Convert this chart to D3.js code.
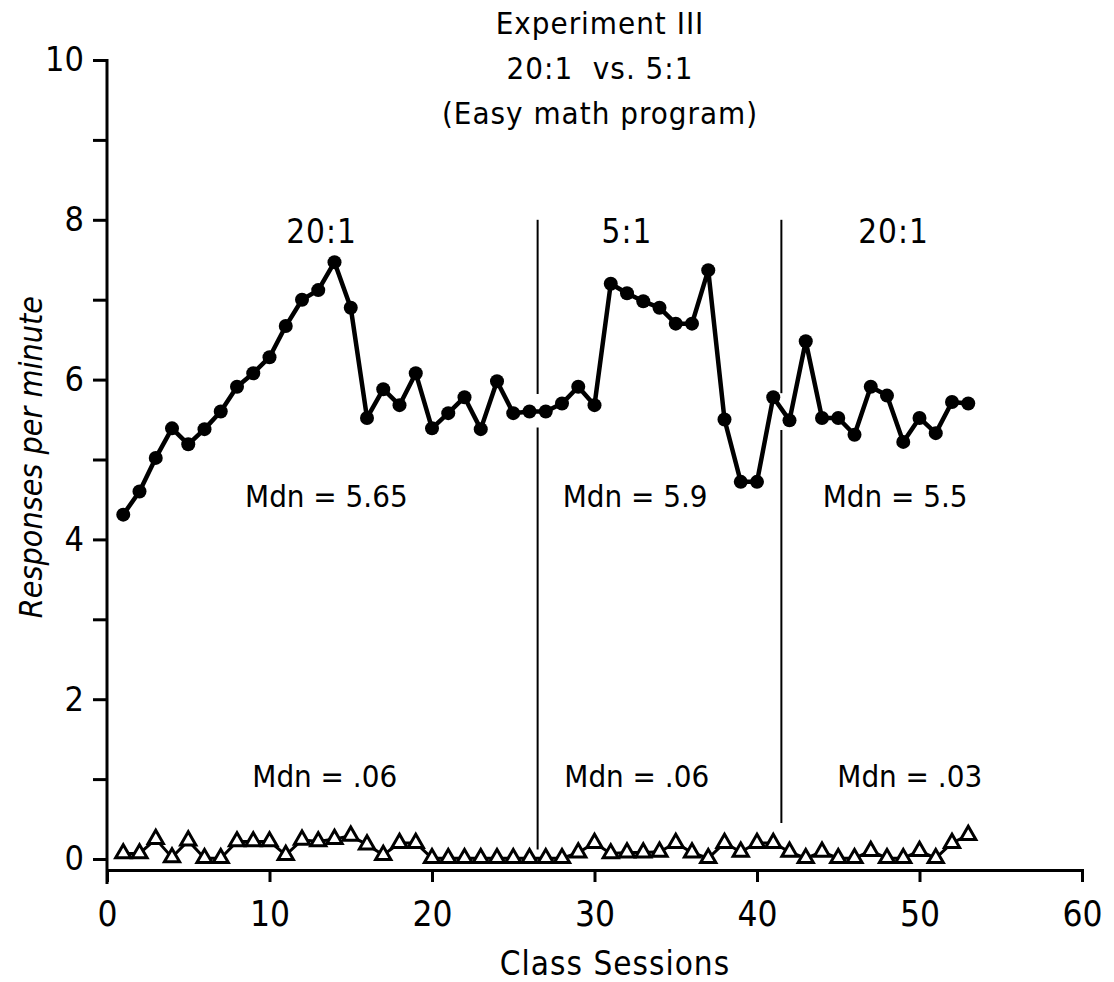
<!DOCTYPE html>
<head>
  <meta charset="utf-8">
  <script src="https://d3js.org/d3.v7.min.js"></script>
<style>
    body {
        margin: 0;
        background: #fff;
    }
    text {
        font-family: "DejaVu Sans Condensed", "DejaVu Sans", sans-serif;
        fill: #000;
        white-space: pre;
    }
    .axis path, .axis line {
        stroke: #000;
        stroke-width: 3px;
    }
    .axis text {
        font-size: 34px;
    }
</style>
</head>

<body>
  <script>

// sessions 1..53
var sessions = d3.range(1, 54);

// responses per minute, filled circles (the math program)
var mathRates = [4.31, 4.6, 5.02, 5.39, 5.19, 5.38, 5.6, 5.91, 6.08, 6.28,
    6.67, 7.0, 7.12, 7.47, 6.9, 5.52, 5.88, 5.68, 6.08, 5.39,
    5.58, 5.78, 5.38, 5.98, 5.58, 5.6, 5.6, 5.7, 5.91, 5.68,
    7.2, 7.08, 6.98, 6.9, 6.7, 6.7, 7.37, 5.5, 4.72, 4.72,
    5.78, 5.49, 6.48, 5.52, 5.52, 5.31, 5.91, 5.8, 5.22, 5.52,
    5.33, 5.72, 5.7];

// open triangles
var otherRates = [0.07, 0.07, 0.25, 0.02, 0.23, 0.01, 0.01, 0.22, 0.22, 0.22,
    0.05, 0.24, 0.22, 0.25, 0.29, 0.18, 0.05, 0.2, 0.2, 0.01,
    0.01, 0.01, 0.01, 0.01, 0.01, 0.01, 0.01, 0.01, 0.08, 0.2,
    0.07, 0.08, 0.08, 0.09, 0.2, 0.08, 0.01, 0.2, 0.09, 0.2,
    0.2, 0.09, 0.01, 0.09, 0.01, 0.01, 0.1, 0.01, 0.01, 0.1,
    0.01, 0.2, 0.3];

var phaseNames = ["20:1", "5:1", "20:1"];
var phaseBreaks = [26.5, 41.5];
var upperMedians = ["Mdn = 5.65", "Mdn = 5.9", "Mdn = 5.5"];
var lowerMedians = ["Mdn = .06", "Mdn = .06", "Mdn = .03"];
var titleLines = ["Experiment III", "20:1  vs. 5:1", "(Easy math program)"];

var width = 1114;
var height = 982;

var svg = d3.select("body")
    .append("svg")
    .attr("width", width)
    .attr("height", height);

var x = d3.scaleLinear().domain([0, 60]).range([107, 1082]);
var y = d3.scaleLinear().domain([0, 10]).range([859, 60]);
var xAxisY = 870;

// x axis
svg.append("g")
    .attr("class", "axis")
    .attr("transform", "translate(0," + xAxisY + ")")
    .call(d3.axisBottom(x).tickValues(d3.range(0, 61, 10)).tickSize(12).tickPadding(19))
    .selectAll("text").style("font-size", "35px");

// y axis
var yAxis = svg.append("g")
    .attr("class", "axis")
    .attr("transform", "translate(" + x(0) + ",0)")
    .call(d3.axisLeft(y).tickValues(d3.range(0, 11))
        .tickFormat(function (d) { return d % 2 === 0 ? d : ""; })
        .tickSize(14).tickSizeOuter(0).tickPadding(9));
yAxis.select(".domain").remove();
yAxis.append("line")
    .attr("x1", 0).attr("x2", 0)
    .attr("y1", y(10) - 1).attr("y2", xAxisY + 14)
    .attr("stroke", "#000").attr("stroke-width", 3);

// phase change lines (broken around the data line)
phaseBreaks.forEach(function (b) {
    var segs = b < 30 ? [[8.0, 5.82], [5.4, 0.12]] : [[8.0, 5.83], [5.37, 0.45]];
    segs.forEach(function (s) {
        svg.append("line")
            .attr("x1", x(b)).attr("x2", x(b))
            .attr("y1", y(s[0])).attr("y2", y(s[1]))
            .attr("stroke", "#000").attr("stroke-width", 2);
    });
});

var line = d3.line()
    .x(function (d) { return x(d[0]); })
    .y(function (d) { return y(d[1]); });

var mathPts = sessions.map(function (s, i) { return [s, mathRates[i]]; });
var otherPts = sessions.map(function (s, i) { return [s, otherRates[i]]; });

svg.append("path")
    .attr("d", line(otherPts))
    .attr("fill", "none").attr("stroke", "#000").attr("stroke-width", 3);

svg.selectAll(".tri")
    .data(otherPts)
    .enter()
    .append("path")
    .attr("class", "tri")
    .attr("d", d3.symbol(d3.symbolTriangle, 100))
    .attr("transform", function (d) { return "translate(" + x(d[0]) + "," + y(d[1]) + ")"; })
    .attr("fill", "#fff").attr("stroke", "#000").attr("stroke-width", 3);

svg.append("path")
    .attr("d", line(mathPts))
    .attr("fill", "none").attr("stroke", "#000").attr("stroke-width", 4.5)
    .attr("stroke-linejoin", "round");

svg.selectAll(".dot")
    .data(mathPts)
    .enter()
    .append("circle")
    .attr("class", "dot")
    .attr("cx", function (d) { return x(d[0]); })
    .attr("cy", function (d) { return y(d[1]); })
    .attr("r", 7);

// titles
svg.selectAll(".title")
    .data(titleLines)
    .enter()
    .append("text")
    .attr("x", 600)
    .attr("y", function (d, i) { return 34 + i * 45; })
    .attr("text-anchor", "middle")
    .style("font-size", "31px")
    .style("letter-spacing", "1px")
    .text(function (d) { return d; });

var phaseX = [13.2, 32, 48.4];
var upperX = [13.5, 32.5, 48.5];
var lowerX = [13.4, 32.6, 49.4];

svg.selectAll(".phase")
    .data(phaseNames)
    .enter()
    .append("text")
    .attr("x", function (d, i) { return x(phaseX[i]); })
    .attr("y", y(7.71))
    .attr("text-anchor", "middle")
    .style("font-size", "33px")
    .style("letter-spacing", "1px")
    .text(function (d) { return d; });

svg.selectAll(".mdnU")
    .data(upperMedians)
    .enter()
    .append("text")
    .attr("x", function (d, i) { return x(upperX[i]); })
    .attr("y", y(4.41))
    .attr("text-anchor", "middle")
    .style("font-size", "31px")
    .text(function (d) { return d; });

svg.selectAll(".mdnL")
    .data(lowerMedians)
    .enter()
    .append("text")
    .attr("x", function (d, i) { return x(lowerX[i]); })
    .attr("y", y(0.9))
    .attr("text-anchor", "middle")
    .style("font-size", "31px")
    .text(function (d) { return d; });

// axis titles
svg.append("text")
    .attr("transform", "translate(42," + y(5.03) + ") rotate(-90)")
    .attr("text-anchor", "middle")
    .style("font-size", "32px")
    .style("font-style", "italic")
    .text("Responses per minute");

svg.append("text")
    .attr("x", 615)
    .attr("y", 975)
    .attr("text-anchor", "middle")
    .style("font-size", "33px")
    .style("letter-spacing", "1px")
    .text("Class Sessions");

  </script>
</body>
